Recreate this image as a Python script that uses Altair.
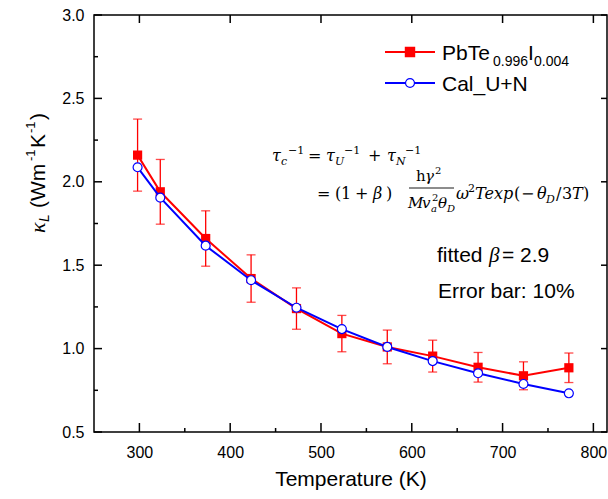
import altair as alt
import pandas as pd

# ---------------- data ----------------
temperature = [298, 323, 373, 423, 473, 523, 573, 623, 673, 723, 773]
kappa_exp = [2.16, 1.94, 1.66, 1.42, 1.24, 1.09, 1.01, 0.955, 0.888, 0.837, 0.885]
kappa_cal = [2.087, 1.905, 1.617, 1.41, 1.245, 1.117, 1.01, 0.925, 0.852, 0.788, 0.732]
err_frac = 0.10

x_major = [300, 400, 500, 600, 700, 800]
x_minor = [350, 450, 550, 650, 750]
y_major = [0.5, 1.0, 1.5, 2.0, 2.5, 3.0]
y_minor = [0.75, 1.25, 1.75, 2.25, 2.75]

RED = "#ff0000"
BLUE = "#0000ff"
SANS = "Liberation Sans"
SERIF = "DejaVu Serif"

# plot area placement on the page
L, T_, W, H = 94, 15, 513, 417

df = pd.DataFrame({
    "T": temperature,
    "exp": kappa_exp,
    "cal": kappa_cal,
})
df["lo"] = df["exp"] * (1 - err_frac)
df["hi"] = df["exp"] * (1 + err_frac)

xs = alt.Scale(domain=[250, 815], nice=False, zero=False)
ys = alt.Scale(domain=[0.5, 3.0], nice=False, zero=False)

x_axis = alt.Axis(values=x_major, format="d", ticks=False, domain=False, grid=False,
                  labelFont=SANS, labelFontSize=16, labelColor="black", labelPadding=12,
                  title="Temperature (K)", titleFont=SANS, titleFontSize=21,
                  titleFontWeight="normal", titleColor="black", titlePadding=8)
y_axis = alt.Axis(values=y_major, format=".1f", ticks=False, domain=False, grid=False,
                  labelFont=SANS, labelFontSize=16, labelColor="black", labelPadding=10,
                  title=None)

base = alt.Chart(df)
X = alt.X("T:Q", scale=xs, axis=x_axis)

def Y(field):
    return alt.Y(field, scale=ys, axis=y_axis)

err_rule = base.mark_rule(color=RED, strokeWidth=1.3).encode(x=X, y=Y("lo:Q"), y2="hi:Q")
cap_lo = base.mark_tick(color=RED, orient="horizontal", size=9, thickness=1.3).encode(
    x=X, y=Y("lo:Q"))
cap_hi = base.mark_tick(color=RED, orient="horizontal", size=9, thickness=1.3).encode(
    x=X, y=Y("hi:Q"))
red_line = base.mark_line(color=RED, strokeWidth=2).encode(x=X, y=Y("exp:Q"))
red_pts = base.mark_point(shape="square", filled=True, color=RED, size=85, opacity=1).encode(
    x=X, y=Y("exp:Q"))
blue_line = base.mark_line(color=BLUE, strokeWidth=2).encode(x=X, y=Y("cal:Q"))
blue_pts = base.mark_point(shape="circle", filled=True, fill="white", stroke=BLUE,
                           strokeWidth=1.2, size=80, opacity=1).encode(x=X, y=Y("cal:Q"))

# ---------------- inward axis ticks ----------------
def xticks(vals, y1, y2):
    return alt.Chart(pd.DataFrame({"T": vals})).mark_rule(color="black", strokeWidth=1.5).encode(
        x=X, y=alt.value(y1), y2=alt.value(y2))

def yticks(vals, x1, x2):
    return alt.Chart(pd.DataFrame({"exp": vals})).mark_rule(color="black", strokeWidth=1.5).encode(
        y=Y("exp:Q"), x=alt.value(x1), x2=alt.value(x2))

ticks = [
    xticks(x_major, H, H - 9), xticks(x_minor, H, H - 4),
    xticks(x_major, 0, 8),
    yticks(y_major, 0, 8), yticks(y_minor, 0, 4),
    yticks(y_major, W, W - 6),
]

# ---------------- annotations (page coords) ----------------
one = pd.DataFrame({"a": [0]})

def txt(s, px, py, size, font=SANS, style="normal", angle=0, color="black"):
    kw = dict(align="left", baseline="alphabetic", font=font, fontSize=size,
              fontStyle=style, color=color)
    if angle:
        kw["angle"] = angle
    return alt.Chart(one).mark_text(**kw).encode(
        x=alt.value(px - L), y=alt.value(py - T_), text=alt.value(s))

def seg(x1, y1, x2, y2, color="black", w=1.0):
    return alt.Chart(one).mark_rule(color=color, strokeWidth=w).encode(
        x=alt.value(x1 - L), x2=alt.value(x2 - L), y=alt.value(y1 - T_), y2=alt.value(y2 - T_))

def sym(px, py, shape, fill, stroke, size):
    return alt.Chart(one).mark_point(shape=shape, filled=True, fill=fill, stroke=stroke,
                                     strokeWidth=1.2, size=size, opacity=1).encode(
        x=alt.value(px - L), y=alt.value(py - T_))

ann = []
# legend
ann += [seg(385, 52, 435, 52, RED, 2), sym(410, 52, "square", RED, RED, 85),
        txt("PbTe", 442, 60, 21), txt("0.996", 493, 66, 14), txt("I", 528, 60, 21),
        txt("0.004", 534, 66, 14)]
ann += [seg(385, 83, 435, 83, BLUE, 2), sym(410, 83, "circle", "white", BLUE, 80),
        txt("Cal_U+N", 442, 91, 21)]

# equation line 1
eq, sb = 16, 11
ann += [txt("τ", 272, 161, eq, SERIF, "italic"), txt("c", 281, 165, sb, SERIF, "italic"),
        txt("−1", 288, 154, sb, SERIF), txt("=", 308, 161, eq, SERIF),
        txt("τ", 326, 161, eq, SERIF, "italic"), txt("U", 335, 165, sb, SERIF, "italic"),
        txt("−1", 344, 154, sb, SERIF), txt("+", 368, 161, eq, SERIF),
        txt("τ", 387, 161, eq, SERIF, "italic"), txt("N", 396, 165, sb, SERIF, "italic"),
        txt("−1", 405, 154, sb, SERIF)]
# equation line 2
ann += [txt("=", 317, 199, eq, SERIF), txt("(", 335, 199, eq, SERIF), txt("1", 341, 199, eq, SERIF),
        txt("+", 355, 199, eq, SERIF), txt("β", 373, 199, eq, SERIF, "italic"),
        txt(")", 386, 199, eq, SERIF),
        txt("h", 416, 181, 15, SERIF), txt("γ", 425, 181, 15, SERIF, "italic"),
        txt("2", 435, 174, 10, SERIF),
        seg(409, 188, 454, 188, "black", 0.9),
        txt("M", 408, 208, 15, SERIF, "italic"), txt("v", 422, 208, 15, SERIF, "italic"),
        txt("a", 431, 212, 10, SERIF, "italic"), txt("2", 432, 201, 10, SERIF),
        txt("θ", 438, 208, 15, SERIF, "italic"), txt("D", 447, 212, 10, SERIF, "italic"),
        txt("ω", 456, 199, eq, SERIF, "italic"), txt("2", 468, 192, sb, SERIF),
        txt("Texp", 475, 199, eq, SERIF, "italic"), txt("(", 514, 199, eq, SERIF),
        txt("−", 521, 199, eq, SERIF), txt("θ", 537, 199, eq, SERIF, "italic"),
        txt("D", 546, 203, sb, SERIF, "italic"), txt("/", 556, 199, eq, SERIF),
        txt("3", 562, 199, eq, SERIF), txt("T", 572, 199, eq, SERIF, "italic"),
        txt(")", 583, 199, eq, SERIF)]

# fitted beta / error bar text
ann += [txt("fitted", 437, 262, 21), txt("β", 489, 262, 21, "Liberation Serif", "italic"),
        txt("= 2.9", 502, 262, 21), txt("Error bar: 10%", 438, 298, 21)]

# y-axis title (rotated)
ann += [txt("κ", 45, 233, 22, "Liberation Serif", "italic", 270),
        txt("L", 49, 222, 14, SANS, "italic", 270),
        txt("(Wm", 45, 208, 21, SANS, "normal", 270),
        txt("-1", 35, 161, 13, SANS, "normal", 270),
        txt("K", 45, 148, 21, SANS, "normal", 270),
        txt("-1", 35, 133, 13, SANS, "normal", 270),
        txt(")", 45, 120, 21, SANS, "normal", 270)]

chart = alt.layer(
    err_rule, cap_lo, cap_hi, red_line, red_pts, blue_line, blue_pts, *ticks, *ann
).properties(
    width=W, height=H,
    padding={"left": L, "top": T_, "right": 608 - L - W, "bottom": 499 - T_ - H},
    autosize=alt.AutoSizeParams(type="none"),
    background="white",
).configure_view(stroke="black", strokeWidth=1.5)

chart.save("out.html", embed_options={"renderer": "svg", "actions": False})
